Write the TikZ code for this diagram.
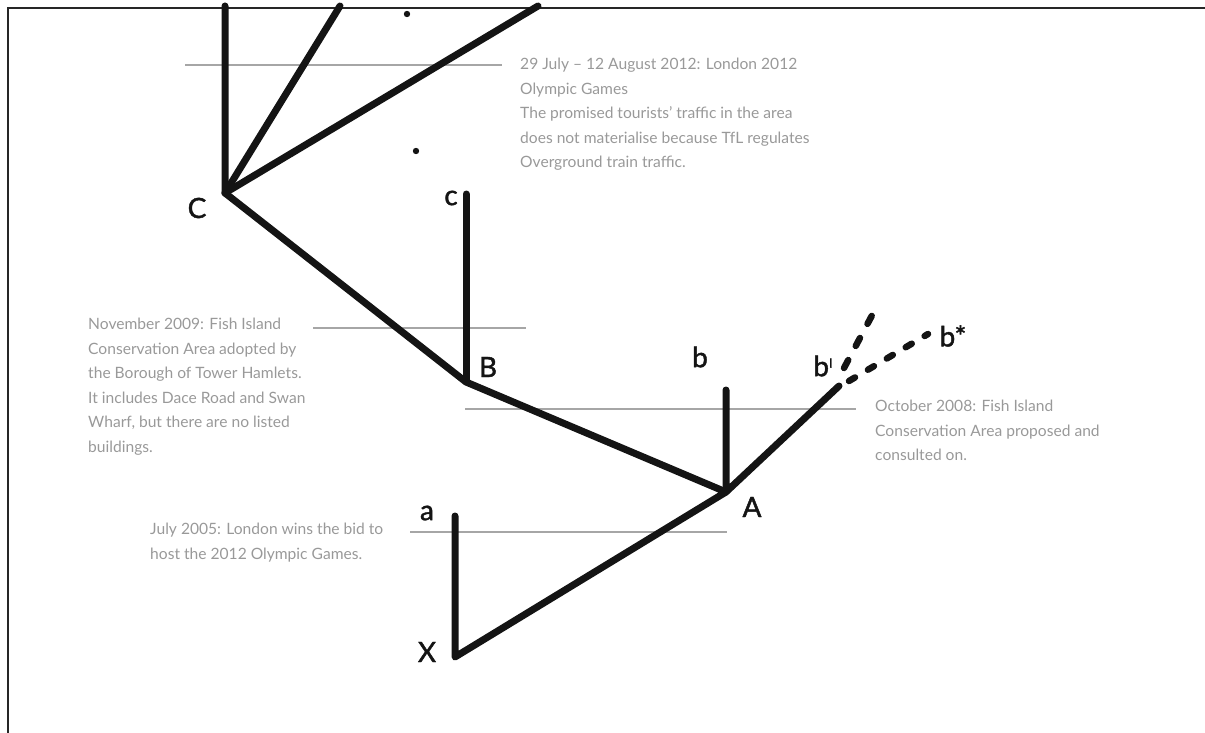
\documentclass[tikz,border=0pt]{standalone}
\usepackage{fontspec}
\setmainfont{Lato}
\newfontfamily\labfont[FakeBold=1.5]{Lato}
\begin{document}
\begin{tikzpicture}[x=1pt,y=-1pt,
  branch/.style={line width=7pt,line cap=round,line join=round,color=black!92},
  dashbranch/.style={line width=6.5pt,line cap=round,color=black!92,dash pattern=on 7pt off 15pt},
  tick/.style={draw=black!35,line width=1.3pt},
  note/.style={anchor=north west,inner sep=0pt,align=left,text=black!40,font=\fontsize{15.6}{24.5}\selectfont},
  lab/.style={inner sep=0pt,font=\labfont\fontsize{28}{28}\selectfont,text=black!92},
  frame/.style={draw=black!85,line width=1.8pt}]
\useasboundingbox (0,0) rectangle (1205,733);
% frame
\coordinate (fbl) at (8,733);
\coordinate (ftl) at (8,8);
\coordinate (ftr) at (1205,8);
\draw[frame] (fbl) -- (ftl) -- (ftr);
% vertices
\coordinate (X) at (455,657);
\coordinate (A) at (726,492);
\coordinate (B) at (466,382);
\coordinate (C) at (225,193);
\coordinate (a) at (455,516);
\coordinate (b) at (726,390);
\coordinate (c) at (466,194);
\coordinate (bp) at (839,386);
\coordinate (t1) at (225,6);
\coordinate (t2) at (340,6);
\coordinate (t3) at (538,6);
% grey timeline ticks
\coordinate (g1a) at (185,65); \coordinate (g1b) at (502,65);
\coordinate (g2a) at (313,328); \coordinate (g2b) at (526,328);
\coordinate (g3a) at (465,409); \coordinate (g3b) at (856,409);
\coordinate (g4a) at (410,532); \coordinate (g4b) at (727,532);
\draw[tick] (g1a) -- (g1b);
\draw[tick] (g2a) -- (g2b);
\draw[tick] (g3a) -- (g3b);
\draw[tick] (g4a) -- (g4b);
% branches
\draw[branch] (a) -- (X) -- (A) -- (B) -- (C) -- (t1);
\draw[branch] (C) -- (t2);
\draw[branch] (C) -- (t3);
\draw[branch] (b) -- (A) -- (bp);
\draw[branch] (c) -- (B);
% dashed continuations
\coordinate (d0) at (844,368);
\coordinate (d1) at (877,306);
\coordinate (e0) at (849,381);
\coordinate (e1) at (928,334);
\draw[dashbranch,dash pattern=on 9pt off 16pt] (d0) -- (d1);
\draw[dashbranch] (e0) -- (e1);
% dots
\fill[black!92] (407,14) circle (3.2pt);
\fill[black!92] (416,151) circle (3.2pt);
% labels
\node[lab] (lX) at (427,652) {X};
\node[lab] (lA) at (752,507) {A};
\node[lab] (lB) at (488,367) {B};
\node[lab] (lC) at (197,208) {C};
\node[lab] (la) at (427,513) {a};
\node[lab] (lb) at (700,357) {b};
\node[lab] (lc) at (451,198) {c};
\node[lab] (lbp) at (823,366) {b\raisebox{0.6ex}{\fontsize{13}{13}\selectfont I}};
\node[lab] (lbs) at (953,336) {b*};
% notes
\node[note] (n1) at (520,58) {29 July -- 12 August 2012: London 2012\\Olympic Games\\The promised tourists' traffic in the area\\does not materialise because TfL regulates\\Overground train traffic.};
\node[note] (n2) at (88,318) {November 2009: Fish Island\\Conservation Area adopted by\\the Borough of Tower Hamlets.\\It includes Dace Road and Swan\\Wharf, but there are no listed\\buildings.};
\node[note] (n3) at (875,400) {October 2008: Fish Island\\Conservation Area proposed and\\consulted on.};
\node[note] (n4) at (150,523) {July 2005: London wins the bid to\\host the 2012 Olympic Games.};
\end{tikzpicture}
\end{document}
